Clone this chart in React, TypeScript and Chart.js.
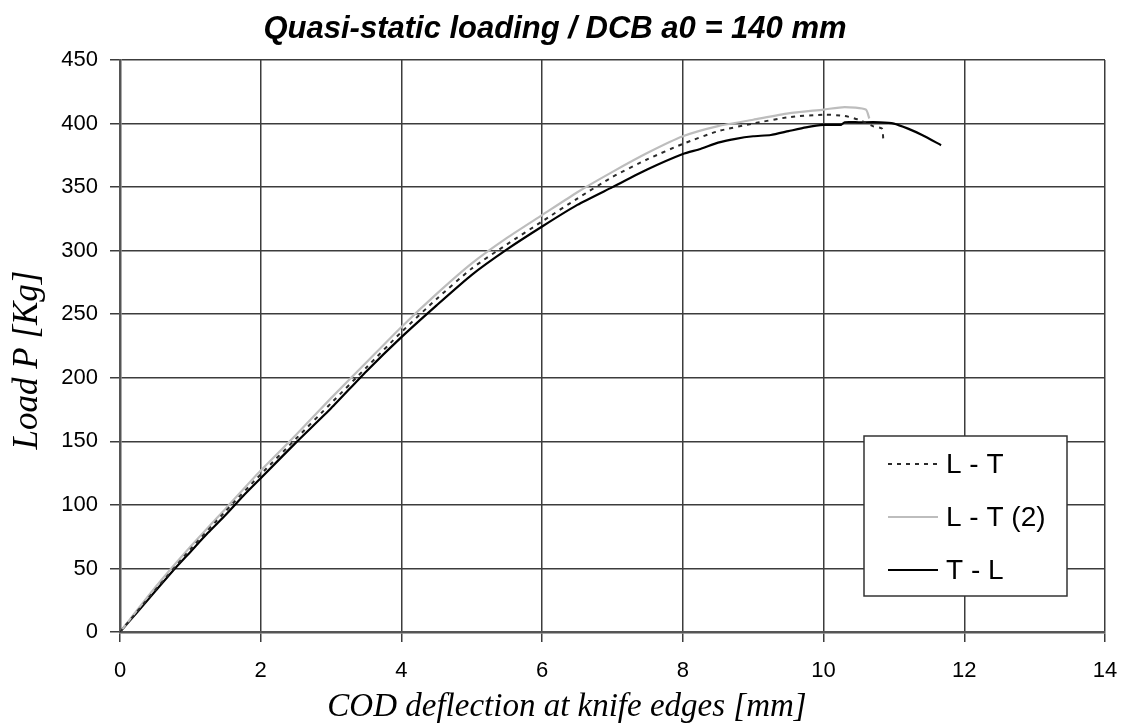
import React, { useEffect, useRef } from 'react';
import { Chart, registerables } from 'chart.js';

Chart.register(...registerables);

const chartTitle = 'Quasi-static loading / DCB a0 = 140 mm';
const xAxisTitle = 'COD deflection at knife edges [mm]';
const yAxisTitle = 'Load P [Kg]';
const seriesNames = ['L - T', 'L - T (2)', 'T - L'];

// L - T (dotted)
const ltX = [0, 0.5, 1, 1.5, 2, 2.5, 3, 3.5, 4, 4.5, 5, 5.5, 6, 6.5, 7, 7.5, 8, 8.5, 9, 9.5, 10, 10.3, 10.5, 10.7, 10.83, 10.85];
const ltY = [0, 33, 65, 95, 124, 152, 180, 208, 236, 262, 286, 305, 323, 341, 358, 372, 384, 394, 400, 405, 407, 406, 403, 398, 396, 385];

// L - T (2) (grey)
const lt2X = [0, 0.5, 1, 1.5, 2, 2.5, 3, 3.5, 4, 4.5, 5, 5.5, 6, 6.5, 7, 7.5, 8, 8.5, 9, 9.5, 10, 10.3, 10.6, 10.65];
const lt2Y = [0, 35, 67, 97, 127, 155, 184, 212, 240, 266, 290, 310, 328, 346, 362, 377, 390, 398, 403, 408, 411, 413, 411, 404];

// T - L (black)
const tlX = [0, 0.25, 0.5, 0.75, 1, 1.25, 1.5, 1.75, 2, 2.5, 3, 3.5, 4, 4.5, 5, 5.5, 6, 6.5, 7, 7.5, 8, 8.25, 8.5, 8.75, 9, 9.25, 9.5, 9.75, 10, 10.25, 10.3, 10.5, 10.8, 11, 11.2, 11.4, 11.67];
const tlY = [0, 16, 32, 48, 63, 78, 92, 107, 121, 149, 176, 205, 232, 257, 281, 301, 319, 336, 350, 364, 376, 380, 385, 388, 390, 391, 394, 397, 399, 399, 401, 401, 401, 400, 396, 391, 383];

const xMin = 0;
const xMax = 14;
const xStep = 2;
const yMin = 0;
const yMax = 450;
const yStep = 50;

const toPoints = (xs: number[], ys: number[]) => xs.map((x, i) => ({ x, y: ys[i] }));

const textPlugin = {
  id: 'textPlugin',
  afterDraw(chart: any) {
    const ctx = chart.ctx;
    ctx.save();
    ctx.fillStyle = '#000';
    // title
    ctx.font = 'italic bold 31px "Liberation Sans", Arial, sans-serif';
    ctx.textAlign = 'center';
    ctx.textBaseline = 'alphabetic';
    ctx.fillText(chartTitle, 555, 38);
    // x title
    ctx.font = 'italic 33px "Liberation Serif", "Times New Roman", serif';
    ctx.fillText(xAxisTitle, 567, 716);
    // y title
    ctx.save();
    ctx.font = 'italic 35px "Liberation Serif", "Times New Roman", serif';
    ctx.translate(37, 360);
    ctx.rotate(-Math.PI / 2);
    ctx.fillText(yAxisTitle, 0, 0);
    ctx.restore();

    // legend
    const bx = 864, by = 436, bw = 203, bh = 160;
    ctx.fillStyle = '#fff';
    ctx.fillRect(bx, by, bw, bh);
    ctx.strokeStyle = '#333';
    ctx.lineWidth = 1.5;
    ctx.strokeRect(bx, by, bw, bh);
    const rows = [464, 517, 570];
    chart.data.datasets.forEach((ds: any, i: number) => {
      const y = rows[i];
      ctx.save();
      ctx.strokeStyle = ds.borderColor;
      ctx.lineWidth = ds.borderWidth;
      ctx.setLineDash(ds.borderDash || []);
      ctx.beginPath();
      ctx.moveTo(888, y);
      ctx.lineTo(938, y);
      ctx.stroke();
      ctx.restore();
      ctx.fillStyle = '#000';
      ctx.font = '28px "Liberation Sans", Arial, sans-serif';
      ctx.textAlign = 'left';
      ctx.textBaseline = 'middle';
      ctx.fillText(ds.label, 946, y + 1);
    });
    ctx.restore();
  },
};

export default function App() {
  const canvasRef = useRef<HTMLCanvasElement | null>(null);

  useEffect(() => {
    document.body.style.margin = '0';
    const canvas = canvasRef.current;
    if (!canvas) return;
    const gridColor = '#3c3c3c';
    const chart = new Chart(canvas, {
      type: 'scatter',
      data: {
        datasets: [
          {
            label: seriesNames[0],
            data: toPoints(ltX, ltY),
            showLine: true,
            borderColor: '#2a2a2a',
            borderWidth: 2,
            borderDash: [4, 5],
            pointRadius: 0,
            tension: 0.2,
          },
          {
            label: seriesNames[1],
            data: toPoints(lt2X, lt2Y),
            showLine: true,
            borderColor: '#bdbdbd',
            borderWidth: 2.2,
            pointRadius: 0,
            tension: 0.2,
          },
          {
            label: seriesNames[2],
            data: toPoints(tlX, tlY),
            showLine: true,
            borderColor: '#000',
            borderWidth: 2.2,
            pointRadius: 0,
            tension: 0.2,
          },
        ],
      },
      options: {
        responsive: false,
        animation: false,
        layout: { padding: { top: 60, right: 25, left: 0, bottom: 0 } },
        plugins: {
          legend: { display: false },
          title: { display: false },
          tooltip: { enabled: false },
        },
        scales: {
          x: {
            type: 'linear',
            min: xMin,
            max: xMax,
            afterFit: (scale: any) => {
              scale.height = 96;
              scale.paddingLeft = 0;
              scale.paddingRight = 0;
            },
            ticks: {
              stepSize: xStep,
              color: '#000',
              padding: 16,
              font: { family: '"Liberation Sans", Arial, sans-serif', size: 22 },
              maxRotation: 0,
            },
            grid: { color: gridColor, lineWidth: 1.5, tickLength: 10, tickColor: gridColor },
            border: { color: '#555', width: 2.5 },
          },
          y: {
            type: 'linear',
            min: yMin,
            max: yMax,
            afterFit: (scale: any) => {
              scale.width = 120;
              scale.paddingTop = 0;
              scale.paddingBottom = 0;
            },
            ticks: {
              stepSize: yStep,
              color: '#000',
              padding: 12,
              font: { family: '"Liberation Sans", Arial, sans-serif', size: 22 },
            },
            grid: { color: gridColor, lineWidth: 1.5, tickLength: 10, tickColor: gridColor },
            border: { color: '#555', width: 2.5 },
          },
        },
      },
      plugins: [textPlugin],
    });
    return () => chart.destroy();
  }, []);

  return (
    <div style={{ width: 1130, height: 728 }}>
      <canvas ref={canvasRef} width={1130} height={728} style={{ display: 'block' }} />
    </div>
  );
}
